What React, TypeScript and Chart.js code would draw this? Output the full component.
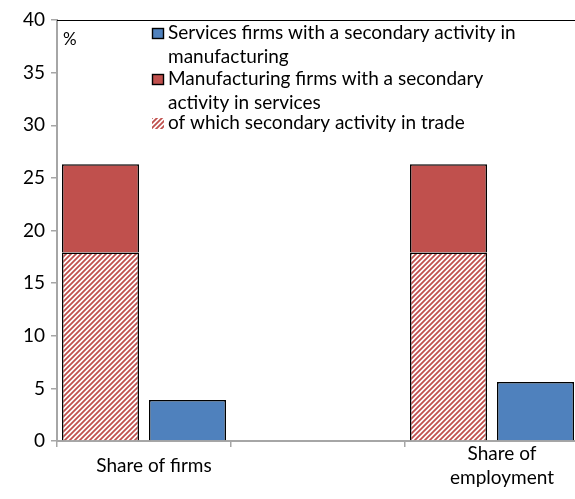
import React, { useEffect, useRef } from "react";
import { Chart, registerables } from "chart.js";

Chart.register(...registerables);

const categories: (string | string[])[] = ["Share of firms", "", ["Share of", "employment"]];
const servicesWithManuf: (number | null)[] = [3.9, null, 5.6];
const manufWithServicesTotal: (number | null)[] = [26.3, null, 26.3];
const ofWhichTrade: (number | null)[] = [17.9, null, 17.9];
const seriesLabels: string[][] = [
  ["Services firms with a secondary activity in", "manufacturing"],
  ["Manufacturing firms with a secondary", "activity in services"],
  ["of which secondary activity in trade"],
];
const yTicks: number[] = [0, 5, 10, 15, 20, 25, 30, 35, 40];

const BLUE = "#4F81BD";
const RED = "#C0504D";
const FONT = "Lato, 'Open Sans', sans-serif";

function makeHatch(): CanvasPattern | string {
  const s = 5;
  const c = document.createElement("canvas");
  c.width = s;
  c.height = s;
  const g = c.getContext("2d");
  if (!g) return RED;
  g.fillStyle = "#ffffff";
  g.fillRect(0, 0, s, s);
  g.strokeStyle = RED;
  g.lineWidth = 1.8;
  g.beginPath();
  g.moveTo(0, s);
  g.lineTo(s, 0);
  g.moveTo(-1, 1);
  g.lineTo(1, -1);
  g.moveTo(s - 1, s + 1);
  g.lineTo(s + 1, s - 1);
  g.stroke();
  const p = g.createPattern(c, "repeat");
  return p || RED;
}

export default function App() {
  const ref = useRef<HTMLCanvasElement>(null);

  useEffect(() => {
    if (!ref.current) return;
    const hatch = makeHatch();
    const redPart = manufWithServicesTotal.map((t, i) =>
      t == null || ofWhichTrade[i] == null ? null : +(t - (ofWhichTrade[i] as number)).toFixed(2)
    );

    const overlay = {
      id: "overlay",
      afterDraw(chart: any) {
        const { ctx, chartArea } = chart;
        ctx.save();
        ctx.strokeStyle = "#000";
        ctx.lineWidth = 1.2;
        ctx.beginPath();
        ctx.moveTo(chartArea.left, chartArea.top + 0.5);
        ctx.lineTo(chartArea.right, chartArea.top + 0.5);
        ctx.stroke();
        ctx.fillStyle = "#000";
        ctx.font = `17px ${FONT}`;
        ctx.textBaseline = "middle";
        ctx.textAlign = "left";
        ctx.fillText("%", 63, 40);
        ctx.font = `19px ${FONT}`;
        const bx = 152;
        const tx = 168;
        const rows = [
          { y: 33, fill: BLUE, border: true },
          { y: 79, fill: RED, border: true },
          { y: 123, fill: hatch, border: false },
        ];
        rows.forEach((r, i) => {
          ctx.fillStyle = r.fill as any;
          ctx.fillRect(bx, r.y - 5, 12, 11);
          if (r.border) {
            ctx.strokeStyle = "#000";
            ctx.lineWidth = 1.4;
            ctx.strokeRect(bx + 0.5, r.y - 4.5, 11, 10);
          }
          ctx.fillStyle = "#000";
          seriesLabels[i].forEach((line, j) => {
            ctx.fillText(line, tx, r.y + j * 24);
          });
        });
        ctx.restore();
      },
    };

    const common = {
      borderColor: "#000",
      borderWidth: 1.5,
      categoryPercentage: 1.0,
      barPercentage: 0.885,
    };

    const chart = new Chart(ref.current, {
      type: "bar",
      data: {
        labels: categories as any,
        datasets: [
          { ...common, label: seriesLabels[2].join(" "), data: ofWhichTrade, backgroundColor: hatch as any, stack: "manuf" },
          { ...common, label: seriesLabels[1].join(" "), data: redPart, backgroundColor: RED, stack: "manuf" },
          { ...common, label: seriesLabels[0].join(" "), data: servicesWithManuf, backgroundColor: BLUE, stack: "serv" },
        ],
      },
      options: {
        animation: false,
        responsive: false,
        maintainAspectRatio: false,
        layout: { padding: { top: 20, right: 0, bottom: 0, left: 0 } },
        plugins: {
          legend: { display: false },
          tooltip: { enabled: false },
        },
        scales: {
          x: {
            stacked: true,
            grid: {
              offset: true,
              drawOnChartArea: false,
              drawTicks: true,
              tickLength: 6,
              color: "#A6A6A6",
              lineWidth: 1.5,
            },
            border: { color: "#A6A6A6", width: 2 },
            ticks: {
              color: "#000",
              font: { family: FONT, size: 19, lineHeight: 1.25 },
              padding: 7,
              crossAlign: "center",
              labelOffset: 10,
              maxRotation: 0,
              autoSkip: false,
            },
            afterFit(scale: any) {
              scale.height = 58;
            },
          } as any,
          y: {
            stacked: true,
            min: 0,
            max: 40,
            afterBuildTicks(scale: any) {
              scale.ticks = yTicks.map((v) => ({ value: v }));
            },
            grid: {
              drawOnChartArea: false,
              drawTicks: true,
              tickLength: 6,
              color: "#A6A6A6",
              lineWidth: 1.5,
            },
            border: { color: "#A6A6A6", width: 2 },
            ticks: {
              color: "#000",
              font: { family: FONT, size: 19 },
              padding: 6,
            },
            afterFit(scale: any) {
              scale.width = 57;
            },
          } as any,
        },
      },
      plugins: [overlay],
    });
    return () => chart.destroy();
  }, []);

  return (
    <div style={{ position: "absolute", left: 0, top: 0, width: 575, height: 499, background: "#fff", overflow: "hidden" }}>
      <canvas ref={ref} width={579} height={499} style={{ display: "block" }} />
    </div>
  );
}
